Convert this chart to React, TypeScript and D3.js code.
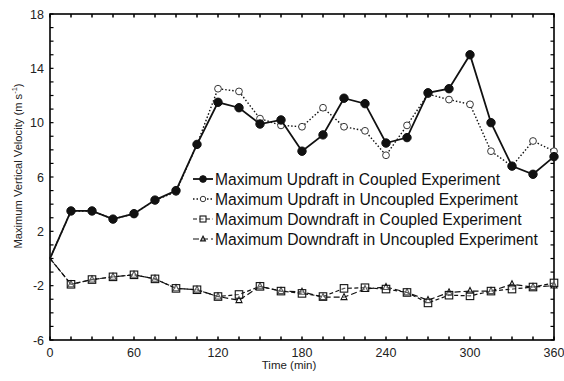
import React, { useRef, useEffect } from 'react';
import * as d3 from 'd3';

// time in minutes, every 15 min
const times = d3.range(0, 361, 15);

const updraftCoupled = [0, 3.5, 3.5, 2.9, 3.3, 4.3, 5.0, 8.4, 11.5, 11.1, 9.9, 10.2, 7.9, 9.1, 11.8, 11.4, 8.5, 8.9, 12.2, 12.5, 15.0, 10.0, 6.8, 6.2, 7.5];
const updraftUncoupled = [0, 3.5, 3.5, 2.9, 3.3, 4.3, 4.9, 8.4, 12.5, 12.3, 10.3, 9.8, 9.7, 11.1, 9.7, 9.4, 7.6, 9.8, 12.1, 11.7, 11.35, 7.9, 6.8, 8.65, 7.9];
const downdraftCoupled = [0, -1.9, -1.55, -1.35, -1.2, -1.5, -2.2, -2.3, -2.8, -2.65, -2.05, -2.4, -2.57, -2.8, -2.2, -2.15, -2.25, -2.5, -3.27, -2.7, -2.75, -2.4, -2.25, -2.1, -1.8];
const downdraftUncoupled = [0, -1.9, -1.55, -1.35, -1.2, -1.5, -2.2, -2.3, -2.8, -3.07, -2.05, -2.4, -2.45, -2.85, -2.85, -2.25, -2.1, -2.5, -3.07, -2.5, -2.4, -2.4, -1.9, -2.1, -2.0];

const xTicks = [0, 60, 120, 180, 240, 300, 360];
const yTicks = [-6, -2, 2, 6, 10, 14, 18];

const legendLabels = [
  'Maximum Updraft in Coupled Experiment',
  'Maximum Updraft in Uncoupled Experiment',
  'Maximum Downdraft in Coupled Experiment',
  'Maximum Downdraft in Uncoupled Experiment',
];
// rendered widths of the condensed legend font in the original
const legendWidths = [285, 303, 307, 323];

function App() {
  const ref = useRef(null);
  const W = 564, H = 381;
  const margin = { top: 14, right: 10, bottom: 41, left: 50 };

  useEffect(() => {
    const svg = d3.select(ref.current);
    svg.selectAll('*').remove();

    const x = d3.scaleLinear().domain([0, 360]).range([margin.left, W - margin.right]);
    const y = d3.scaleLinear().domain([-6, 18]).range([H - margin.bottom, margin.top]);

    const g = svg.append('g');

    // minor ticks, inward, on all four sides
    const minorX = d3.range(0, 361, 15);
    const minorY = d3.range(-6, 19, 1);
    g.selectAll('.tb').data(minorX).enter().append('line')
      .attr('x1', d => x(d)).attr('x2', d => x(d))
      .attr('y1', y(-6)).attr('y2', y(-6) - 3.5)
      .attr('stroke', '#000').attr('stroke-width', 1.5);
    g.selectAll('.tt').data(minorX).enter().append('line')
      .attr('x1', d => x(d)).attr('x2', d => x(d))
      .attr('y1', y(18)).attr('y2', y(18) + 3.5)
      .attr('stroke', '#000').attr('stroke-width', 1.5);
    g.selectAll('.tl').data(minorY).enter().append('line')
      .attr('x1', x(0)).attr('x2', x(0) + 3.5)
      .attr('y1', d => y(d)).attr('y2', d => y(d))
      .attr('stroke', '#000').attr('stroke-width', 1.2);
    g.selectAll('.tr').data(minorY).enter().append('line')
      .attr('x1', x(360)).attr('x2', x(360) - 3.5)
      .attr('y1', d => y(d)).attr('y2', d => y(d))
      .attr('stroke', '#000').attr('stroke-width', 1.2);

    // frame
    g.append('rect')
      .attr('x', x(0)).attr('y', y(18))
      .attr('width', x(360) - x(0)).attr('height', y(-6) - y(18))
      .attr('fill', 'none').attr('stroke', '#000').attr('stroke-width', 1.6);

    // tick labels
    g.selectAll('.xl').data(xTicks).enter().append('text')
      .attr('x', d => x(d)).attr('y', y(-6) + 17)
      .attr('text-anchor', 'middle')
      .attr('font-family', 'Liberation Sans, Arial, sans-serif')
      .attr('font-size', 12.5).attr('fill', '#222')
      .text(d => d);
    g.selectAll('.yl').data(yTicks).enter().append('text')
      .attr('x', x(0) - 6).attr('y', d => y(d) + 4.5)
      .attr('text-anchor', 'end')
      .attr('font-family', 'Liberation Sans, Arial, sans-serif')
      .attr('font-size', 12.5).attr('fill', '#222')
      .text(d => d);

    // axis titles
    g.append('text')
      .attr('x', 289).attr('y', H - 12)
      .attr('text-anchor', 'middle')
      .attr('font-family', 'Liberation Sans, Arial, sans-serif')
      .attr('font-size', 11.5).attr('fill', '#222')
      .text('Time (min)');
    const yt = g.append('text')
      .attr('transform', `translate(22,166) rotate(-90)`)
      .attr('text-anchor', 'middle')
      .attr('font-family', 'Liberation Sans, Arial, sans-serif')
      .attr('font-size', 11.2).attr('fill', '#222');
    yt.append('tspan').text('Maximum Vertical Velocity (m s');
    yt.append('tspan').attr('font-size', 7.5).attr('dy', -5).text('-1');
    yt.append('tspan').attr('dy', 5).text(')');

    const series = [
      { data: updraftCoupled, dash: null, width: 1.8, marker: 'fcircle' },
      { data: updraftUncoupled, dash: '1.5,2', width: 1.4, marker: 'ocircle' },
      { data: downdraftCoupled, dash: '4,2.5', width: 1.2, marker: 'square' },
      { data: downdraftUncoupled, dash: '6,3', width: 1.2, marker: 'triangle' },
    ];

    const line = d3.line().x(d => x(d[0])).y(d => y(d[1]));

    const drawMarker = (sel, type, cx, cy, small) => {
      const k = small ? 0.8 : 1;
      if (type === 'fcircle') {
        sel.append('circle').attr('cx', cx).attr('cy', cy).attr('r', 4.2 * k)
          .attr('fill', '#111').attr('stroke', '#111');
      } else if (type === 'ocircle') {
        sel.append('circle').attr('cx', cx).attr('cy', cy).attr('r', 3.4 * k)
          .attr('fill', '#fff').attr('stroke', '#222').attr('stroke-width', 0.9);
      } else if (type === 'square') {
        const s = 7.5 * k;
        sel.append('rect').attr('x', cx - s / 2).attr('y', cy - s / 2)
          .attr('width', s).attr('height', s)
          .attr('fill', '#fff').attr('fill-opacity', 0.3).attr('stroke', '#111').attr('stroke-width', 1.1);
      } else {
        const s = 6 * k;
        sel.append('path')
          .attr('d', `M${cx},${cy - s * 0.6}L${cx + s / 2},${cy + s * 0.4}L${cx - s / 2},${cy + s * 0.4}Z`)
          .attr('fill', '#fff').attr('fill-opacity', 0.3).attr('stroke', '#111').attr('stroke-width', 1.1);
      }
    };

    // draw in reverse so coupled updraft sits on top
    series.slice().reverse().forEach(s => {
      const pts = times.map((t, i) => [t, s.data[i]]);
      const path = g.append('path').datum(pts)
        .attr('d', line).attr('fill', 'none')
        .attr('stroke', '#111').attr('stroke-width', s.width);
      if (s.dash) path.attr('stroke-dasharray', s.dash);
      const mg = g.append('g');
      pts.slice(1).forEach(p => drawMarker(mg, s.marker, x(p[0]), y(p[1]), false));
    });

    // legend (condensed look: squeeze horizontally to the original widths)
    const lg = g.append('g');
    const ly = [179, 199, 219, 239];
    series.forEach((s, i) => {
      const l = lg.append('line')
        .attr('x1', 193).attr('x2', 213)
        .attr('y1', ly[i]).attr('y2', ly[i])
        .attr('stroke', '#111').attr('stroke-width', s.width);
      if (s.dash) l.attr('stroke-dasharray', s.dash);
      drawMarker(lg, s.marker, 203, ly[i], true);
      const t = lg.append('text')
        .attr('x', 0).attr('y', 0)
        .attr('font-family', 'Liberation Sans, Arial, sans-serif')
        .attr('font-size', 17.2).attr('fill', '#111')
        .text(legendLabels[i]);
      const natural = t.node().getComputedTextLength() || legendWidths[i];
      const sx = legendWidths[i] / natural;
      t.attr('transform', `translate(215,${ly[i] + 6}) scale(${sx},1)`);
    });
  }, []);

  return (
    <svg ref={ref} width={W} height={H}
      style={{ position: 'absolute', left: 0, top: 0, background: '#fff' }} />
  );
}

export default App;
